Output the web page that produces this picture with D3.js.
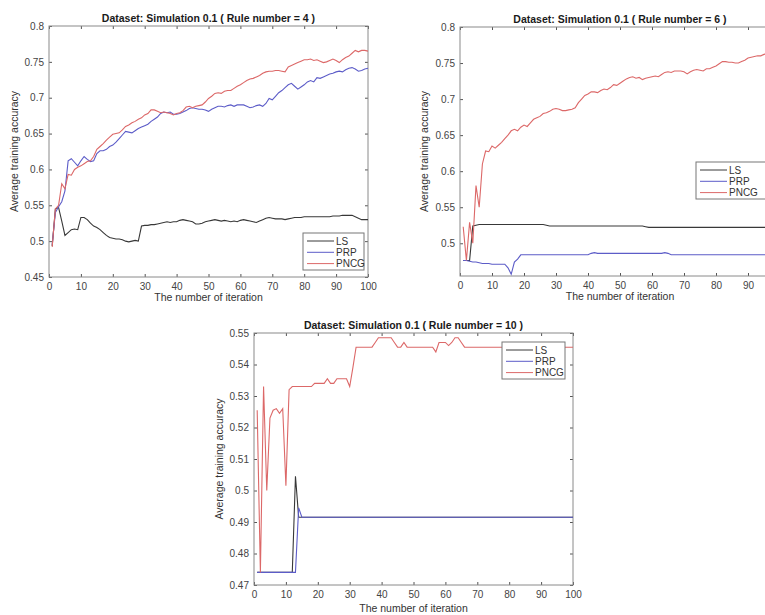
<!DOCTYPE html>
<html>
<head>
<meta charset="utf-8">
<script src="https://cdn.jsdelivr.net/npm/d3@7"></script>
<style>
	body { margin: 0; background: #fff; }
	svg { display: block; font-family: "Liberation Sans", Arial, sans-serif; }
</style>
</head>
<body>
<div class="board"></div>
<script>
// iterations 1..100
var iters = d3.range(1, 101);
var seriesNames = ['LS', 'PRP', 'PNCG'];

// Rule number = 4
var ls4 = [0.493,0.545,0.547,0.528,0.508,0.512,0.516,0.517,0.516,0.533,
	0.533,0.530,0.525,0.521,0.519,0.516,0.512,0.508,0.505,0.504,
	0.503,0.503,0.502,0.500,0.499,0.500,0.501,0.500,0.521,0.522,
	0.522,0.523,0.523,0.524,0.525,0.526,0.527,0.526,0.527,0.527,
	0.529,0.530,0.529,0.528,0.527,0.524,0.524,0.525,0.527,0.528,
	0.529,0.530,0.529,0.528,0.529,0.528,0.527,0.528,0.527,0.529,
	0.530,0.529,0.528,0.527,0.526,0.528,0.530,0.532,0.533,0.532,
	0.531,0.531,0.531,0.530,0.531,0.532,0.533,0.533,0.533,0.534,
	0.534,0.534,0.534,0.534,0.534,0.534,0.534,0.534,0.535,0.535,
	0.535,0.536,0.536,0.536,0.536,0.534,0.532,0.530,0.530,0.530];
var prp4 = [0.495,0.540,0.548,0.555,0.570,0.612,0.615,0.610,0.605,0.612,
	0.618,0.614,0.611,0.612,0.622,0.626,0.626,0.628,0.632,0.634,
	0.638,0.643,0.648,0.653,0.652,0.651,0.654,0.657,0.659,0.661,
	0.663,0.667,0.670,0.673,0.678,0.680,0.679,0.680,0.677,0.677,
	0.678,0.680,0.682,0.685,0.686,0.685,0.684,0.684,0.683,0.681,
	0.684,0.686,0.688,0.688,0.687,0.689,0.690,0.688,0.690,0.690,
	0.690,0.688,0.686,0.687,0.689,0.690,0.688,0.692,0.699,0.697,
	0.702,0.707,0.710,0.714,0.718,0.720,0.716,0.712,0.715,0.718,
	0.722,0.724,0.722,0.728,0.727,0.729,0.731,0.733,0.734,0.736,
	0.737,0.736,0.739,0.741,0.742,0.740,0.737,0.738,0.740,0.741];
var pncg4 = [0.492,0.545,0.550,0.580,0.573,0.593,0.592,0.600,0.603,0.605,
	0.608,0.611,0.612,0.618,0.628,0.632,0.636,0.641,0.645,0.649,
	0.650,0.651,0.655,0.660,0.662,0.665,0.667,0.670,0.672,0.676,
	0.678,0.683,0.683,0.681,0.679,0.680,0.679,0.678,0.676,0.678,
	0.679,0.682,0.687,0.688,0.686,0.688,0.689,0.690,0.694,0.699,
	0.702,0.706,0.707,0.706,0.709,0.710,0.710,0.713,0.716,0.718,
	0.721,0.724,0.726,0.727,0.729,0.731,0.734,0.736,0.737,0.737,
	0.738,0.738,0.737,0.736,0.743,0.745,0.747,0.749,0.751,0.753,
	0.753,0.754,0.752,0.753,0.751,0.749,0.750,0.752,0.754,0.752,
	0.749,0.753,0.756,0.758,0.762,0.766,0.764,0.766,0.766,0.765];

// Rule number = 6
var ls6 = [0.476,0.476,0.476,0.524,0.525,0.526,0.526,0.526,0.526,0.526,
	0.526,0.526,0.526,0.526,0.526,0.526,0.526,0.526,0.526,0.526,
	0.526,0.526,0.526,0.526,0.526,0.526,0.525,0.524,0.524,0.524,
	0.524,0.524,0.524,0.524,0.524,0.524,0.524,0.524,0.524,0.524,
	0.524,0.524,0.524,0.524,0.524,0.524,0.524,0.524,0.524,0.524,
	0.524,0.524,0.524,0.524,0.524,0.524,0.524,0.523,0.522,0.522,
	0.522,0.522,0.522,0.522,0.522,0.522,0.522,0.522,0.522,0.522,
	0.522,0.522,0.522,0.522,0.522,0.522,0.522,0.522,0.522,0.522,
	0.522,0.522,0.522,0.522,0.522,0.522,0.522,0.522,0.522,0.522,
	0.522,0.522,0.522,0.522,0.522,0.522,0.522,0.522,0.522,0.522];
var prp6 = [0.476,0.476,0.475,0.474,0.474,0.473,0.472,0.472,0.472,0.471,
	0.471,0.471,0.471,0.471,0.466,0.457,0.474,0.478,0.484,0.484,
	0.484,0.484,0.484,0.484,0.484,0.484,0.484,0.484,0.484,0.484,
	0.484,0.484,0.484,0.484,0.484,0.484,0.484,0.484,0.484,0.484,
	0.486,0.487,0.486,0.486,0.486,0.486,0.486,0.486,0.486,0.486,
	0.486,0.486,0.486,0.486,0.486,0.486,0.486,0.486,0.486,0.486,
	0.486,0.486,0.486,0.487,0.486,0.484,0.484,0.484,0.484,0.484,
	0.484,0.484,0.484,0.484,0.484,0.484,0.484,0.484,0.484,0.484,
	0.484,0.484,0.484,0.484,0.484,0.484,0.484,0.484,0.484,0.484,
	0.484,0.484,0.484,0.484,0.484,0.484,0.484,0.485,0.486,0.486];
var pncg6 = [0.523,0.476,0.529,0.500,0.580,0.550,0.610,0.628,0.627,0.635,
	0.632,0.636,0.640,0.645,0.650,0.656,0.658,0.656,0.661,0.664,
	0.662,0.667,0.672,0.674,0.676,0.680,0.681,0.683,0.686,0.687,
	0.686,0.684,0.684,0.685,0.686,0.688,0.695,0.700,0.705,0.707,
	0.710,0.710,0.709,0.712,0.714,0.713,0.716,0.720,0.719,0.722,
	0.725,0.728,0.730,0.731,0.729,0.730,0.727,0.729,0.730,0.731,
	0.732,0.731,0.734,0.737,0.738,0.737,0.739,0.739,0.739,0.738,
	0.735,0.738,0.740,0.741,0.740,0.739,0.742,0.742,0.744,0.746,
	0.749,0.752,0.752,0.751,0.751,0.750,0.750,0.752,0.754,0.757,
	0.758,0.759,0.760,0.760,0.762,0.763,0.763,0.765,0.765,0.766];

// Rule number = 10
var ls10 = [0.474,0.474,0.474,0.474,0.474,0.474,0.474,0.474,0.474,0.474,
	0.474,0.474,0.5045,0.4915,0.4915,0.4915,0.4915,0.4915,0.4915,0.4915,
	0.4915,0.4915,0.4915,0.4915,0.4915,0.4915,0.4915,0.4915,0.4915,0.4915,
	0.4915,0.4915,0.4915,0.4915,0.4915,0.4915,0.4915,0.4915,0.4915,0.4915,
	0.4915,0.4915,0.4915,0.4915,0.4915,0.4915,0.4915,0.4915,0.4915,0.4915,
	0.4915,0.4915,0.4915,0.4915,0.4915,0.4915,0.4915,0.4915,0.4915,0.4915,
	0.4915,0.4915,0.4915,0.4915,0.4915,0.4915,0.4915,0.4915,0.4915,0.4915,
	0.4915,0.4915,0.4915,0.4915,0.4915,0.4915,0.4915,0.4915,0.4915,0.4915,
	0.4915,0.4915,0.4915,0.4915,0.4915,0.4915,0.4915,0.4915,0.4915,0.4915,
	0.4915,0.4915,0.4915,0.4915,0.4915,0.4915,0.4915,0.4915,0.4915,0.4915];
var prp10 = [0.474,0.474,0.474,0.474,0.474,0.474,0.474,0.474,0.474,0.474,
	0.474,0.474,0.474,0.4945,0.4915,0.4915,0.4915,0.4915,0.4915,0.4915,
	0.4915,0.4915,0.4915,0.4915,0.4915,0.4915,0.4915,0.4915,0.4915,0.4915,
	0.4915,0.4915,0.4915,0.4915,0.4915,0.4915,0.4915,0.4915,0.4915,0.4915,
	0.4915,0.4915,0.4915,0.4915,0.4915,0.4915,0.4915,0.4915,0.4915,0.4915,
	0.4915,0.4915,0.4915,0.4915,0.4915,0.4915,0.4915,0.4915,0.4915,0.4915,
	0.4915,0.4915,0.4915,0.4915,0.4915,0.4915,0.4915,0.4915,0.4915,0.4915,
	0.4915,0.4915,0.4915,0.4915,0.4915,0.4915,0.4915,0.4915,0.4915,0.4915,
	0.4915,0.4915,0.4915,0.4915,0.4915,0.4915,0.4915,0.4915,0.4915,0.4915,
	0.4915,0.4915,0.4915,0.4915,0.4915,0.4915,0.4915,0.4915,0.4915,0.4915];
var pncg10 = [0.5255,0.474,0.533,0.500,0.523,0.5255,0.526,0.5245,0.526,0.5015,
	0.532,0.533,0.533,0.533,0.533,0.533,0.533,0.533,0.534,0.534,
	0.534,0.534,0.5355,0.534,0.534,0.5355,0.5355,0.5355,0.5355,0.533,
	0.539,0.5455,0.5455,0.5455,0.5455,0.5455,0.5455,0.547,0.5485,0.5485,
	0.5485,0.5485,0.5485,0.547,0.5455,0.5455,0.547,0.5455,0.5455,0.5455,
	0.5455,0.5455,0.5455,0.5455,0.5455,0.5455,0.544,0.547,0.547,0.547,
	0.546,0.547,0.5485,0.5485,0.547,0.5455,0.5455,0.5455,0.5455,0.5455,
	0.5455,0.5455,0.5455,0.5455,0.5455,0.5455,0.5455,0.5455,0.5455,0.5455,
	0.5455,0.5455,0.5455,0.5455,0.5455,0.5455,0.5455,0.5455,0.5455,0.5455,
	0.5455,0.5455,0.5455,0.5455,0.5455,0.5455,0.5455,0.5455,0.5455,0.5455];

var xTicks = d3.range(0, 101, 10);
var yTicks4 = [0.45, 0.5, 0.55, 0.6, 0.65, 0.7, 0.75, 0.8];
var yTicks6 = [0.5, 0.55, 0.6, 0.65, 0.7, 0.75, 0.8];
var yTicks10 = [0.47, 0.48, 0.49, 0.5, 0.51, 0.52, 0.53, 0.54, 0.55];
var colors = ['#383838', '#5c5cc8', '#dc6868'];

var svg = d3.select('.board')
	.append('svg')
	.attr('width', 765)
	.attr('height', 615);

function drawPanel(p){
	var x = d3.scaleLinear().domain([0, 100]).range([p.left, p.right]);
	var y = d3.scaleLinear().domain(p.yDomain).range([p.bottom, p.top]);
	var g = svg.append('g');

	g.append('rect')
		.attr('x', p.left).attr('y', p.top)
		.attr('width', p.right - p.left).attr('height', p.bottom - p.top)
		.style('fill', 'white');

	var yFmt = function(d){ return String(+d.toFixed(2)); };
	// labels past the page edge are not drawn (the page cuts them off)
	var xFmt = function(d){ return x(d) + 8 > 765 ? '' : String(d); };

	var axB = g.append('g').attr('transform', 'translate(0,' + p.bottom + ')')
		.call(d3.axisBottom(x).tickValues(xTicks).tickSize(-3).tickPadding(6).tickFormat(xFmt));
	var axT = g.append('g').attr('transform', 'translate(0,' + p.top + ')')
		.call(d3.axisTop(x).tickValues(xTicks).tickSize(-3).tickFormat(''));
	var axL = g.append('g').attr('transform', 'translate(' + p.left + ',0)')
		.call(d3.axisLeft(y).tickValues(p.yTicks).tickSize(-3).tickPadding(5).tickFormat(yFmt));
	var axR = g.append('g').attr('transform', 'translate(' + p.right + ',0)')
		.call(d3.axisRight(y).tickValues(p.yTicks).tickSize(-3).tickFormat(''));

	[axB, axT, axL, axR].forEach(function(a){
		a.select('.domain').remove();
		a.selectAll('line').style('stroke', '#555');
		a.selectAll('text').style('font-size', '10px').style('fill', '#444')
			.style('font-family', '"Liberation Sans", Arial, sans-serif');
	});

	// frame
	g.append('rect')
		.attr('x', p.left).attr('y', p.top)
		.attr('width', p.right - p.left).attr('height', p.bottom - p.top)
		.style('fill', 'none').style('stroke', '#8a8a8a').style('stroke-width', 1);

	var line = d3.line()
		.x(function(d){ return x(d[0]); })
		.y(function(d){ return y(d[1]); });

	p.series.forEach(function(s, i){
		g.append('path')
			.datum(iters.map(function(it, k){ return [it, s[k]]; }))
			.attr('d', line)
			.style('fill', 'none')
			.style('stroke', colors[i])
			.style('stroke-width', 1.1);
	});

	g.append('text')
		.attr('x', (p.left + p.right) / 2).attr('y', p.top - 4)
		.attr('text-anchor', 'middle')
		.style('font-size', '10.5px').style('font-weight', 'bold').style('fill', '#1a1a1a')
		.text(p.title);

	g.append('text')
		.attr('x', (p.left + p.right) / 2).attr('y', p.bottom + p.xLabelDy)
		.attr('text-anchor', 'middle')
		.style('font-size', '10.5px').style('fill', '#333')
		.text('The number of iteration');

	g.append('text')
		.attr('transform', 'translate(' + p.yLabelX + ',' + (p.top + p.bottom) / 2 + ') rotate(-90)')
		.attr('text-anchor', 'middle')
		.style('font-size', '10.5px').style('fill', '#333')
		.text('Average training accuracy');

	// legend
	var lg = g.append('g').attr('transform', 'translate(' + p.legend[0] + ',' + p.legend[1] + ')');
	lg.append('rect')
		.attr('width', p.legend[2]).attr('height', 37)
		.style('fill', 'white').style('stroke', '#777').style('stroke-width', 1);
	var rows = lg.selectAll('g.row')
		.data(seriesNames)
		.enter()
		.append('g')
		.attr('transform', function(d, i){ return 'translate(0,' + (8 + i * 11.3) + ')'; });
	rows.append('line')
		.attr('x1', 4).attr('x2', 31)
		.style('stroke', function(d, i){ return colors[i]; });
	rows.append('text')
		.attr('x', 33).attr('dy', '0.35em')
		.style('font-size', '10px').style('fill', '#333')
		.text(function(d){ return d; });
}

drawPanel({
	title: 'Dataset: Simulation 0.1 ( Rule number = 4 )',
	left: 49, right: 368, top: 26, bottom: 277,
	yDomain: [0.45, 0.8], yTicks: yTicks4, yLabelX: 18, xLabelDy: 24,
	series: [ls4, prp4, pncg4],
	legend: [303, 233, 61]
});

drawPanel({
	title: 'Dataset: Simulation 0.1 ( Rule number = 6 )',
	left: 460, right: 780, top: 27, bottom: 276,
	yDomain: [0.4546, 0.8], yTicks: yTicks6, yLabelX: 428, xLabelDy: 24,
	series: [ls6, prp6, pncg6],
	legend: [696, 162, 70]
});

drawPanel({
	title: 'Dataset: Simulation 0.1 ( Rule number = 10 )',
	left: 254, right: 573, top: 333, bottom: 585,
	yDomain: [0.47, 0.55], yTicks: yTicks10, yLabelX: 223, xLabelDy: 27,
	series: [ls10, prp10, pncg10],
	legend: [502, 342, 63]
});
</script>
</body>
</html>
